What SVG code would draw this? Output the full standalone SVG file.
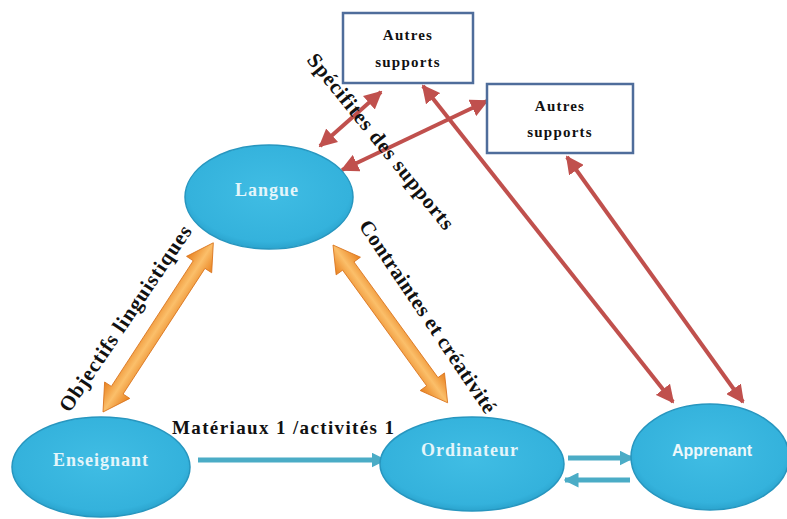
<svg xmlns="http://www.w3.org/2000/svg" width="787" height="519" viewBox="0 0 787 519">
  <style>
    .node-shape { fill: url(#nodeFill); stroke: #2796bf; stroke-width: 1.5; }
    .node-label { font-family: "Liberation Serif", "DejaVu Serif", serif; font-weight: bold; font-size: 18px; fill: #e4f5fa; text-anchor: middle; letter-spacing: 1px; }
    .node-label-sans { font-family: "Liberation Sans", Arial, sans-serif; font-weight: bold; font-size: 16px; fill: #eef8fb; text-anchor: middle; }
    .box { fill: #ffffff; stroke: #4f6d9b; stroke-width: 2.5; }
    .box-label { font-family: "Liberation Serif", "DejaVu Serif", serif; font-weight: bold; font-size: 15px; fill: #111111; text-anchor: middle; letter-spacing: 1.2px; }
    .edge-label { font-family: "Liberation Serif", "DejaVu Serif", serif; font-weight: bold; font-size: 19px; fill: #111111; text-anchor: middle; }
    .edge-label-big { font-size: 21px; }
    .red { stroke: #c0504d; stroke-width: 4; fill: none; marker-start: url(#redHead); marker-end: url(#redHead); }
    .blue { stroke: #4bacc6; stroke-width: 5; fill: none; marker-end: url(#blueHead); }
    .orange { fill: url(#orangeFill); stroke: #d9731c; stroke-width: 0.8; }
  </style>
  <defs>
    <radialGradient id="nodeFill" cx="50%" cy="45%" r="60%">
      <stop offset="0" stop-color="#40bde4"/>
      <stop offset="0.8" stop-color="#34b2dc"/>
      <stop offset="1" stop-color="#2499c3"/>
    </radialGradient>
    <linearGradient id="orangeFill" x1="0" y1="0" x2="0" y2="1">
      <stop offset="0" stop-color="#e8801e"/>
      <stop offset="0.5" stop-color="#fbbf6a"/>
      <stop offset="1" stop-color="#e8801e"/>
    </linearGradient>
    <marker id="redHead" viewBox="0 0 10 10" refX="9" refY="5" markerWidth="4.5" markerHeight="4.5" orient="auto-start-reverse" markerUnits="strokeWidth">
      <path d="M0,0 L10,5 L0,10 Z" fill="#c0504d"/>
    </marker>
    <marker id="blueHead" viewBox="0 0 10 10" refX="9" refY="5" markerWidth="3" markerHeight="3" orient="auto" markerUnits="strokeWidth">
      <path d="M0,0 L10,5 L0,10 Z" fill="#4bacc6"/>
    </marker>
  </defs>

  <rect width="787" height="519" fill="#ffffff"/>

  <!-- connectors -->
  <g id="connectors">
    <!-- supports links -->
    <line class="red" x1="320" y1="146" x2="381" y2="92"/>
    <line class="red" x1="342" y1="170" x2="487" y2="101"/>
    <line class="red" x1="423" y1="86" x2="673" y2="402"/>
    <line class="red" x1="567" y1="157" x2="743" y2="402"/>

    <!-- thick double arrows of the triangle -->
    <polygon class="orange" transform="translate(103,412) rotate(-56.9)"
             points="0,0 26,-15 26,-7 176,-7 176,-15 202,0 176,15 176,7 26,7 26,15"/>
    <polygon class="orange" transform="translate(333,245) rotate(54)"
             points="0,0 26,-15 26,-7 169,-7 169,-15 195,0 169,15 169,7 26,7 26,15"/>

    <!-- flows -->
    <line class="blue" x1="198" y1="460" x2="385" y2="460"/>
    <line class="blue" x1="568" y1="458" x2="633" y2="458"/>
    <line class="blue" x1="630" y1="480" x2="565" y2="480"/>
  </g>

  <!-- connector labels -->
  <g id="labels">
    <text class="edge-label edge-label-big" transform="translate(380,142) rotate(51)" y="6" textLength="220">Spécifites des supports</text>
    <text class="edge-label edge-label-big" transform="translate(126,319) rotate(-56)" y="6" textLength="220">Objectifs linguistiques</text>
    <text class="edge-label edge-label-big" transform="translate(427,317) rotate(56)" y="6" textLength="228">Contraintes et créativité</text>
    <text class="edge-label" x="283" y="434" textLength="222">Matériaux 1 /activités 1</text>
  </g>

  <!-- nodes -->
  <g id="box-autres-1">
    <rect class="box" x="343" y="13" width="130" height="70"/>
    <text class="box-label" x="408" y="40">Autres</text>
    <text class="box-label" x="408" y="67">supports</text>
  </g>
  <g id="box-autres-2">
    <rect class="box" x="487" y="84" width="146" height="69"/>
    <text class="box-label" x="560" y="111">Autres</text>
    <text class="box-label" x="560" y="137">supports</text>
  </g>
  <g id="node-langue">
    <ellipse class="node-shape" cx="269" cy="197" rx="84" ry="52"/>
    <text class="node-label" x="267" y="196">Langue</text>
  </g>
  <g id="node-enseignant">
    <ellipse class="node-shape" cx="101" cy="467" rx="89" ry="50"/>
    <text class="node-label" x="101" y="466" letter-spacing="1.6">Enseignant</text>
  </g>
  <g id="node-ordinateur">
    <ellipse class="node-shape" cx="472" cy="464" rx="92" ry="47"/>
    <text class="node-label" x="470" y="456">Ordinateur</text>
  </g>
  <g id="node-apprenant">
    <ellipse class="node-shape" cx="710" cy="457" rx="79" ry="53"/>
    <text class="node-label-sans" x="712" y="456">Apprenant</text>
  </g>
</svg>
